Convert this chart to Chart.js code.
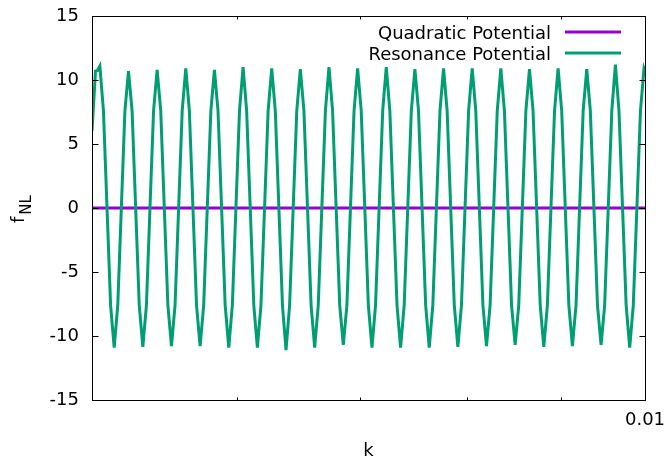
<!DOCTYPE html>
<html>
<head>
<meta charset="utf-8">
<script src="https://cdn.jsdelivr.net/npm/chart.js@4.4.0/dist/chart.umd.min.js"></script>
<style>
  html, body { margin: 0; padding: 0; background: #fff; }
  canvas { display: block; }
</style>
</head>
<body>
<canvas id="chart" width="665" height="460"></canvas>
<script>
const FONT = '"DejaVu Sans", "Liberation Sans", sans-serif';

// x axis: k (log scale), only 0.01 is labelled
const xTickVals = [0.006, 0.007, 0.008, 0.009, 0.01];
const xTickLabels = ['', '', '', '', '0.01'];
const yTickVals = [-15, -10, -5, 0, 5, 10, 15];

// Quadratic potential: flat at zero
const quadK = [0.005, 0.0075, 0.01];
const quadF = [0, 0, 0];

// Resonance potential, one row per oscillation
const resK = [
  0.0050000, 0.0050220, 0.0050346,
  0.0050495, 0.0050722, 0.0050950, 0.0051179, 0.0051410, 0.0051641, 0.0051873, 0.0052106,
  0.0052341, 0.0052576, 0.0052813, 0.0053050, 0.0053289, 0.0053529, 0.0053769, 0.0054011,
  0.0054254, 0.0054498, 0.0054743, 0.0054989, 0.0055237, 0.0055485, 0.0055735, 0.0055985,
  0.0056237, 0.0056490, 0.0056744, 0.0056999, 0.0057256, 0.0057513, 0.0057772, 0.0058032,
  0.0058293, 0.0058555, 0.0058819, 0.0059083, 0.0059349, 0.0059616, 0.0059884, 0.0060153,
  0.0060423, 0.0060695, 0.0060968, 0.0061242, 0.0061517, 0.0061794, 0.0062072, 0.0062351,
  0.0062632, 0.0062914, 0.0063197, 0.0063481, 0.0063766, 0.0064053, 0.0064341, 0.0064631,
  0.0064921, 0.0065213, 0.0065506, 0.0065801, 0.0066097, 0.0066394, 0.0066693, 0.0066993,
  0.0067294, 0.0067597, 0.0067901, 0.0068206, 0.0068513, 0.0068821, 0.0069130, 0.0069441,
  0.0069754, 0.0070068, 0.0070383, 0.0070699, 0.0071017, 0.0071337, 0.0071658, 0.0071980,
  0.0072303, 0.0072628, 0.0072955, 0.0073283, 0.0073613, 0.0073944, 0.0074276, 0.0074610,
  0.0074946, 0.0075283, 0.0075622, 0.0075962, 0.0076303, 0.0076647, 0.0076991, 0.0077338,
  0.0077685, 0.0078034, 0.0078385, 0.0078738, 0.0079092, 0.0079448, 0.0079805, 0.0080164,
  0.0080525, 0.0080887, 0.0081251, 0.0081616, 0.0081983, 0.0082352, 0.0082723, 0.0083095,
  0.0083468, 0.0083843, 0.0084221, 0.0084599, 0.0084980, 0.0085362, 0.0085746, 0.0086131,
  0.0086519, 0.0086908, 0.0087299, 0.0087692, 0.0088086, 0.0088482, 0.0088880, 0.0089280,
  0.0089681, 0.0090084, 0.0090490, 0.0090896, 0.0091305, 0.0091716, 0.0092128, 0.0092543,
  0.0092959, 0.0093377, 0.0093797, 0.0094219, 0.0094643, 0.0095068, 0.0095496, 0.0095925,
  0.0096357, 0.0096790, 0.0097226, 0.0097663, 0.0098102, 0.0098543, 0.0098987, 0.0099432,
  0.0099879, 0.0100000
];
const resF = [
  6.0, 10.7, 10.75,
  11.1, 7.6, 0.0, -7.6, -10.9, -7.6, 0.0, 7.6,
  10.7, 7.6, 0.0, -7.6, -10.85, -7.6, 0.0, 7.6,
  10.8, 7.6, 0.0, -7.6, -10.8, -7.6, 0.0, 7.6,
  10.9, 7.6, 0.0, -7.6, -10.8, -7.6, 0.0, 7.6,
  10.8, 7.6, 0.0, -7.6, -10.9, -7.6, 0.0, 7.6,
  11.0, 7.6, 0.0, -7.6, -10.9, -7.6, 0.0, 7.6,
  10.9, 7.6, 0.0, -7.6, -11.1, -7.6, 0.0, 7.6,
  10.85, 7.6, 0.0, -7.6, -10.9, -7.6, 0.0, 7.6,
  11.0, 7.6, 0.0, -7.6, -10.7, -7.6, 0.0, 7.6,
  10.9, 7.6, 0.0, -7.6, -10.9, -7.6, 0.0, 7.6,
  11.0, 7.6, 0.0, -7.6, -10.9, -7.6, 0.0, 7.6,
  10.85, 7.6, 0.0, -7.6, -10.9, -7.6, 0.0, 7.6,
  10.9, 7.6, 0.0, -7.6, -10.85, -7.6, 0.0, 7.6,
  10.9, 7.6, 0.0, -7.6, -10.8, -7.6, 0.0, 7.6,
  10.9, 7.6, 0.0, -7.6, -10.7, -7.6, 0.0, 7.6,
  10.85, 7.6, 0.0, -7.6, -10.85, -7.6, 0.0, 7.6,
  10.9, 7.6, 0.0, -7.6, -10.8, -7.6, 0.0, 7.6,
  10.85, 7.6, 0.0, -7.6, -10.7, -7.6, 0.0, 7.6,
  11.2, 7.6, 0.0, -7.6, -10.9, -7.6, 0.0, 7.6,
  10.9, 10.7
];

const toPoints = (xs, ys) => xs.map((x, i) => ({ x: x, y: ys[i] }));

// gnuplot style frame with inward ticks on all four sides
const framePlugin = {
  id: 'frame',
  afterDatasetsDraw(chart) {
    const { ctx, chartArea: ca, scales } = chart;
    const l = Math.round(ca.left) + 0.5, r = Math.round(ca.right) + 0.5;
    const t = Math.round(ca.top) + 0.5, b = Math.round(ca.bottom) + 0.5;
    ctx.save();
    ctx.strokeStyle = '#000';
    ctx.lineWidth = 1;
    ctx.beginPath();
    yTickVals.forEach(v => {
      const py = Math.round(scales.y.getPixelForValue(v)) + 0.5;
      ctx.moveTo(l, py); ctx.lineTo(l + 6, py);
      ctx.moveTo(r, py); ctx.lineTo(r - 6, py);
    });
    xTickVals.forEach(v => {
      const px = Math.round(scales.x.getPixelForValue(v)) + 0.5;
      const len = v === 0.01 ? 6 : 3;
      ctx.moveTo(px, b); ctx.lineTo(px, b - len);
      ctx.moveTo(px, t); ctx.lineTo(px, t + len);
    });
    ctx.strokeRect(l, t, r - l, b - t);
    ctx.stroke();
    ctx.restore();
  }
};

// key in the top right corner, text first then line sample
const keyPlugin = {
  id: 'key',
  afterDatasetsDraw(chart) {
    const { ctx, chartArea: ca } = chart;
    ctx.save();
    ctx.font = '18px ' + FONT;
    ctx.textAlign = 'right';
    ctx.textBaseline = 'alphabetic';
    chart.data.datasets.forEach((ds, i) => {
      const base = ca.top + 23 + i * 21;
      ctx.fillStyle = '#000';
      ctx.fillText(ds.label, ca.right - 94, base);
      ctx.strokeStyle = ds.borderColor;
      ctx.lineWidth = 3;
      ctx.beginPath();
      ctx.moveTo(ca.right - 80, base - 7);
      ctx.lineTo(ca.right - 24, base - 7);
      ctx.stroke();
    });
    ctx.restore();
  }
};

// y title f_NL with a subscript
const yTitlePlugin = {
  id: 'yTitle',
  afterDraw(chart) {
    const ctx = chart.ctx;
    ctx.save();
    ctx.translate(24, 223);
    ctx.rotate(-Math.PI / 2);
    ctx.fillStyle = '#000';
    ctx.textBaseline = 'alphabetic';
    ctx.font = '18px ' + FONT;
    ctx.fillText('f', 0, 0);
    const w = ctx.measureText('f').width;
    ctx.font = '15px ' + FONT;
    ctx.fillText('NL', w + 2, 7);
    ctx.restore();
  }
};

new Chart(document.getElementById('chart'), {
  type: 'line',
  data: {
    datasets: [
      {
        label: 'Quadratic Potential',
        data: toPoints(quadK, quadF),
        borderColor: '#9400d3',
        borderWidth: 3,
        pointRadius: 0,
        tension: 0,
        order: 1
      },
      {
        label: 'Resonance Potential',
        data: toPoints(resK, resF),
        borderColor: '#009e73',
        borderWidth: 3,
        pointRadius: 0,
        tension: 0,
        order: 0
      }
    ]
  },
  options: {
    responsive: false,
    animation: false,
    devicePixelRatio: 1,
    layout: { padding: { top: 16, right: 20, left: 0, bottom: 0 } },
    plugins: { legend: { display: false }, tooltip: { enabled: false } },
    scales: {
      x: {
        type: 'logarithmic',
        min: 0.005,
        max: 0.01,
        afterBuildTicks: s => { s.ticks = xTickVals.map(v => ({ value: v })); },
        afterFit: s => {
          s.height = 60;
          s.paddingLeft = 0;
          s.paddingRight = 0;
        },
        ticks: {
          autoSkip: false,
          maxRotation: 0,
          padding: 10,
          color: '#000',
          font: { family: FONT, size: 18 },
          callback: (v, i) => xTickLabels[i]
        },
        grid: { display: false, drawTicks: false },
        border: { display: false },
        title: {
          display: true,
          text: 'k',
          color: '#000',
          padding: 0,
          font: { family: FONT, size: 18, lineHeight: 1 }
        }
      },
      y: {
        min: -15,
        max: 15,
        afterBuildTicks: s => { s.ticks = yTickVals.map(v => ({ value: v })); },
        afterFit: s => {
          s.width = 92;
          s.paddingTop = 0;
          s.paddingBottom = 0;
        },
        ticks: {
          padding: 13,
          color: '#000',
          font: { family: FONT, size: 18 }
        },
        grid: { display: false, drawTicks: false },
        border: { display: false }
      }
    }
  },
  plugins: [framePlugin, keyPlugin, yTitlePlugin]
});
</script>
</body>
</html>
